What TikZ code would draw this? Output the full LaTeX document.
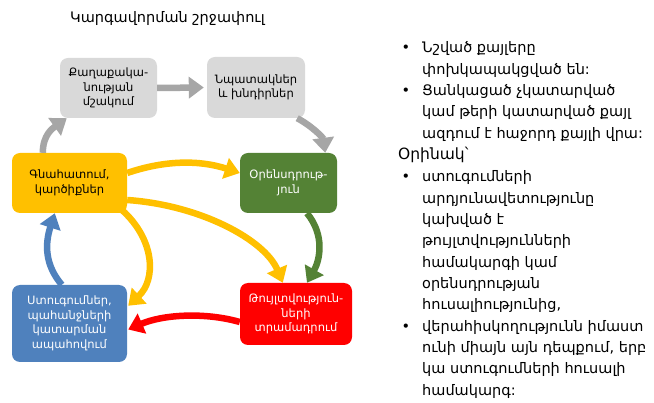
\documentclass[tikz,border=0pt]{standalone}
\usepackage{fontspec}
\setmainfont{DejaVu Sans}
\usetikzlibrary{arrows.meta,calc}
\definecolor{boxgray}{HTML}{D9D9D9}
\definecolor{arrgray}{HTML}{A6A6A6}
\definecolor{myyellow}{HTML}{FFC000}
\definecolor{mygreen}{HTML}{548235}
\definecolor{myblue}{HTML}{4F81BD}
\definecolor{myred}{HTML}{FF0000}
\begin{document}
\begin{tikzpicture}[x=1pt,y=-1pt,
  box/.style={rounded corners=8pt, align=center, inner sep=0pt,
    font=\fontsize{11.5}{14.5}\selectfont},
  flow/.style={line width=6.5pt, draw=#1,
    -{Triangle[length=15pt,width=21pt]}},
  txt/.style={anchor=base west, inner sep=0pt, font=\fontsize{14.5}{17}\selectfont},
  bul/.style={anchor=base, inner sep=0pt, font=\fontsize{14.5}{17}\selectfont}
]
\fill[white] (0,0) rectangle (654,403);
\useasboundingbox (0,0) rectangle (654,403);

\node[anchor=base west, inner sep=0pt, font=\fontsize{14.5}{17}\selectfont] (title) at (70,23) {Կարգավորման շրջափուլ};

\node[box, fill=boxgray, minimum width=97pt, minimum height=60pt] (pol) at (108.5,88) {Քաղաքակա-\\նության\\մշակում};
\node[box, fill=boxgray, minimum width=98pt, minimum height=61pt] (goals) at (256,87.5) {Նպատակներ\\և խնդիրներ};
\node[box, fill=myyellow, minimum width=115pt, minimum height=60pt] (eval) at (69.5,183) {Գնահատում,\\կարծիքներ};
\node[box, fill=mygreen, text=white, minimum width=97pt, minimum height=60pt] (leg) at (288.5,183) {Օրենսդրութ-\\յուն};
\node[box, fill=myblue, text=white, minimum width=115pt, minimum height=77pt] (insp) at (69.5,323.5) {Ստուգումներ,\\պահանջների\\կատարման\\ապահովում};
\node[box, fill=myred, text=white, minimum width=112pt, minimum height=62pt] (perm) at (296,314) {Թույլտվություն-\\ների\\տրամադրում};

\draw[flow=arrgray] ($(eval.north west)+(31,0)$) .. controls +(0,-18) and +(-14,10) .. ($(pol.south west)+(7,0)$);
\draw[flow=arrgray] (pol.east) -- ($(goals.west)+(-3,0)$);
\draw[flow=arrgray] ($(goals.south east)+(-8,0)$) .. controls +(15,8) and +(-2,-15) .. ($(leg.north east)+(-12,0)$);
\draw[flow=myyellow] ($(eval.east)+(0,-10)$) .. controls +(38,-13) and +(-40,-13) .. ($(leg.west)+(0,-10)$);
\draw[flow=myyellow] ($(eval.east)+(0,17)$) .. controls +(73,5) and +(-18,-43) .. ($(perm.north west)+(43,0)$);
\draw[flow=myyellow] ($(eval.south east)+(-5,-3)$) .. controls +(33,30) and +(28,-26) .. ($(insp.north east)+(1,21)$);
\draw[flow=mygreen] ($(leg.south)+(18.5,0)$) .. controls +(18,22) and +(13,-23) .. ($(perm.north)+(11,0)$);
\draw[flow=myred] ($(perm.west)+(0,8)$) .. controls +(-35,-10) and +(35,-15) .. ($(insp.east)+(1,6)$);
\draw[flow=myblue] ($(insp.north west)+(50,0)$) .. controls +(-17,-20) and +(-10,31) .. ($(eval.south west)+(43,0)$);

\node[bul] (b1) at (406,53) {•};
\node[txt] (r1) at (422,53) {Նշված քայլերը};
\node[txt] (r2) at (422,75) {փոխկապակցված են:};
\node[bul] (b2) at (406,96) {•};
\node[txt] (r3) at (422,96) {Ցանկացած չկատարված};
\node[txt] (r4) at (422,117) {կամ թերի կատարված քայլ};
\node[txt] (r5) at (422,139) {ազդում է հաջորդ քայլի վրա:};
\node[txt, font=\fontsize{15.5}{18}\selectfont] (r6) at (398,160) {Օրինակ՝};
\node[bul] (b3) at (406,182) {•};
\node[txt] (r7) at (422,182) {ստուգումների};
\node[txt] (r8) at (422,204) {արդյունավետությունը};
\node[txt] (r9) at (422,225) {կախված է};
\node[txt] (r10) at (422,246) {թույլտվությունների};
\node[txt] (r11) at (422,268) {համակարգի կամ};
\node[txt] (r12) at (422,289) {օրենսդրության};
\node[txt] (r13) at (422,310) {հուսալիությունից,};
\node[bul] (b4) at (406,332) {•};
\node[txt] (r14) at (422,332) {վերահիսկողությունն իմաստ};
\node[txt] (r15) at (422,353) {ունի միայն այն դեպքում, երբ};
\node[txt] (r16) at (422,374) {կա ստուգումների հուսալի};
\node[txt] (r17) at (422,396) {համակարգ:};
\end{tikzpicture}
\end{document}
